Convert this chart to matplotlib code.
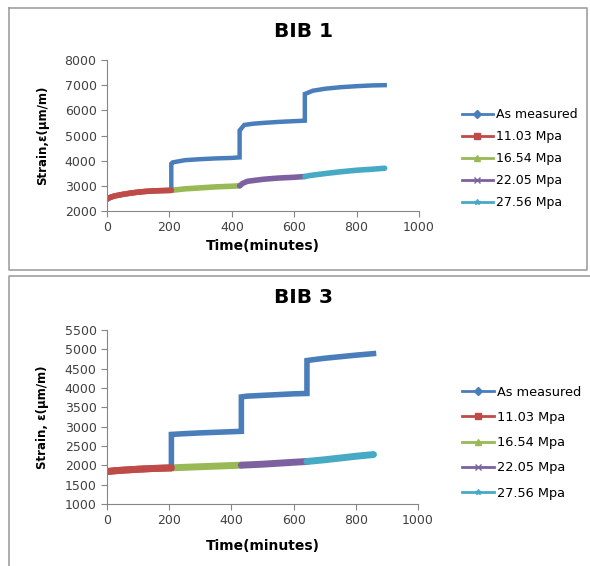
import matplotlib
matplotlib.use('Agg')
import matplotlib.pyplot as plt
from matplotlib.lines import Line2D

plt.rcParams['font.family'] = ['DejaVu Sans']

labels = ['As measured', '11.03 Mpa', '16.54 Mpa', '22.05 Mpa', '27.56 Mpa']
colors = ['#4A7EBB', '#BE4B48', '#98B954', '#7D60A0', '#46AAC5']
markers = ['D', 's', '^', 'x', '*']

# BIB 1 (time in minutes, strain in um/m)
bib1_meas_t = [0, 10, 25, 50, 75, 100, 125, 150, 175, 206, 206, 210, 250, 300, 350, 400, 425,
               425, 440, 470, 500, 550, 600, 634, 634, 660, 700, 750, 800, 850, 890]
bib1_meas_v = [2470, 2540, 2600, 2660, 2710, 2750, 2780, 2800, 2810, 2820, 3880, 3930, 4020, 4060, 4090, 4110, 4130,
               5200, 5420, 5470, 5500, 5540, 5570, 5590, 6650, 6780, 6860, 6920, 6960, 6990, 7000]
bib1_s1_t = [0, 10, 25, 50, 75, 100, 125, 150, 175, 206]
bib1_s1_v = [2470, 2540, 2600, 2660, 2710, 2750, 2780, 2800, 2810, 2820]
bib1_s2_t = [206, 250, 300, 350, 400, 425]
bib1_s2_v = [2820, 2880, 2920, 2960, 2985, 3000]
bib1_s3_t = [425, 435, 450, 500, 550, 600, 634]
bib1_s3_v = [3000, 3100, 3180, 3260, 3310, 3340, 3370]
bib1_s4_t = [634, 650, 700, 750, 800, 850, 890]
bib1_s4_v = [3370, 3410, 3490, 3560, 3620, 3660, 3700]

# BIB 3
bib3_meas_t = [0, 25, 50, 100, 150, 207, 207, 250, 300, 350, 400, 432,
               432, 450, 500, 550, 600, 643, 643, 660, 700, 750, 800, 857]
bib3_meas_v = [1840, 1860, 1875, 1900, 1920, 1935, 2800, 2820, 2840, 2855, 2870, 2880,
               3770, 3790, 3810, 3830, 3850, 3860, 4710, 4730, 4770, 4810, 4850, 4890]
bib3_s1_t = [0, 25, 50, 100, 150, 207]
bib3_s1_v = [1840, 1860, 1875, 1900, 1920, 1935]
bib3_s2_t = [207, 250, 300, 350, 400, 432]
bib3_s2_v = [1935, 1950, 1965, 1980, 1995, 2005]
bib3_s3_t = [432, 500, 550, 600, 643]
bib3_s3_v = [2005, 2030, 2055, 2080, 2100]
bib3_s4_t = [643, 700, 750, 800, 857]
bib3_s4_v = [2100, 2145, 2190, 2235, 2280]

grey = '#868686'
text_col = '#404040'

fig = plt.figure(figsize=(5.9, 5.66), dpi=100)


def style_axes(ax, ylim, yticks, ylabel, xpad):
    ax.set_xlim(0, 1000)
    ax.set_ylim(*ylim)
    ax.set_xticks(range(0, 1001, 200))
    ax.set_yticks(yticks)
    for side in ['top', 'right']:
        ax.spines[side].set_visible(False)
    for side in ['left', 'bottom']:
        ax.spines[side].set_color(grey)
        ax.spines[side].set_linewidth(0.8)
    ax.tick_params(colors=grey, labelcolor=text_col, labelsize=9, length=4, width=0.8)
    ax.set_xlabel('Time(minutes)', fontsize=10, fontweight='bold', color='black', labelpad=xpad)
    ax.set_ylabel(ylabel, fontsize=8.5, fontweight='bold', color='black', labelpad=11)


def draw(ax, series, lw):
    # coloured stage series first, measured on top
    for (t, v), c in zip(series[1:], colors[1:]):
        ax.plot(t, v, color=c, lw=lw, solid_capstyle='round', solid_joinstyle='round')
    t, v = series[0]
    ax.plot(t, v, color=colors[0], lw=lw * 0.8, solid_joinstyle='miter')
    # red sits over the shared first stage like in the reference
    ax.plot(series[1][0], series[1][1], color=colors[1], lw=lw, solid_capstyle='round')


handles = [Line2D([], [], color=c, marker=m, lw=2, markersize=4, markeredgewidth=1)
           for c, m in zip(colors, markers)]

ax1 = fig.add_axes([0.1814, 0.6272, 0.5288, 0.2668])
draw(ax1, [(bib1_meas_t, bib1_meas_v), (bib1_s1_t, bib1_s1_v), (bib1_s2_t, bib1_s2_v),
           (bib1_s3_t, bib1_s3_v), (bib1_s4_t, bib1_s4_v)], 4)
style_axes(ax1, (2000, 8000), range(2000, 8001, 1000), 'Strain,ε(μm/m)', 3)
fig.text(0.514, 0.945, 'BIB 1', ha='center', va='center', fontsize=14.5, fontweight='bold')
fig.legend(handles, labels, loc='upper left', bbox_to_anchor=(0.772, 0.82), frameon=False,
           fontsize=9, handlelength=2.5, handletextpad=0.25, labelspacing=0.72, borderpad=0,
           labelcolor='black')

ax2 = fig.add_axes([0.1814, 0.1095, 0.527, 0.3074])
draw(ax2, [(bib3_meas_t, bib3_meas_v), (bib3_s1_t, bib3_s1_v), (bib3_s2_t, bib3_s2_v),
           (bib3_s3_t, bib3_s3_v), (bib3_s4_t, bib3_s4_v)], 5)
style_axes(ax2, (1000, 5500), range(1000, 5501, 500), 'Strain, ε(μm/m)', 8)
fig.text(0.514, 0.4735, 'BIB 3', ha='center', va='center', fontsize=14.5, fontweight='bold')
fig.legend(handles, labels, loc='upper left', bbox_to_anchor=(0.772, 0.33), frameon=False,
           fontsize=9.3, handlelength=2.5, handletextpad=0.25, labelspacing=0.95, borderpad=0,
           labelcolor='black')

# panel frames
frame = '#A0A0A0'
fig.add_artist(Line2D([0.0153, 0.995, 0.995, 0.0153, 0.0153], [0.9859, 0.9859, 0.523, 0.523, 0.9859],
                      transform=fig.transFigure, color=frame, lw=1.2))
fig.add_artist(Line2D([1.0, 0.0153, 0.0153], [0.512, 0.512, 0.0], transform=fig.transFigure,
                      color=frame, lw=1.2))

fig.savefig('out.png', dpi=100)
